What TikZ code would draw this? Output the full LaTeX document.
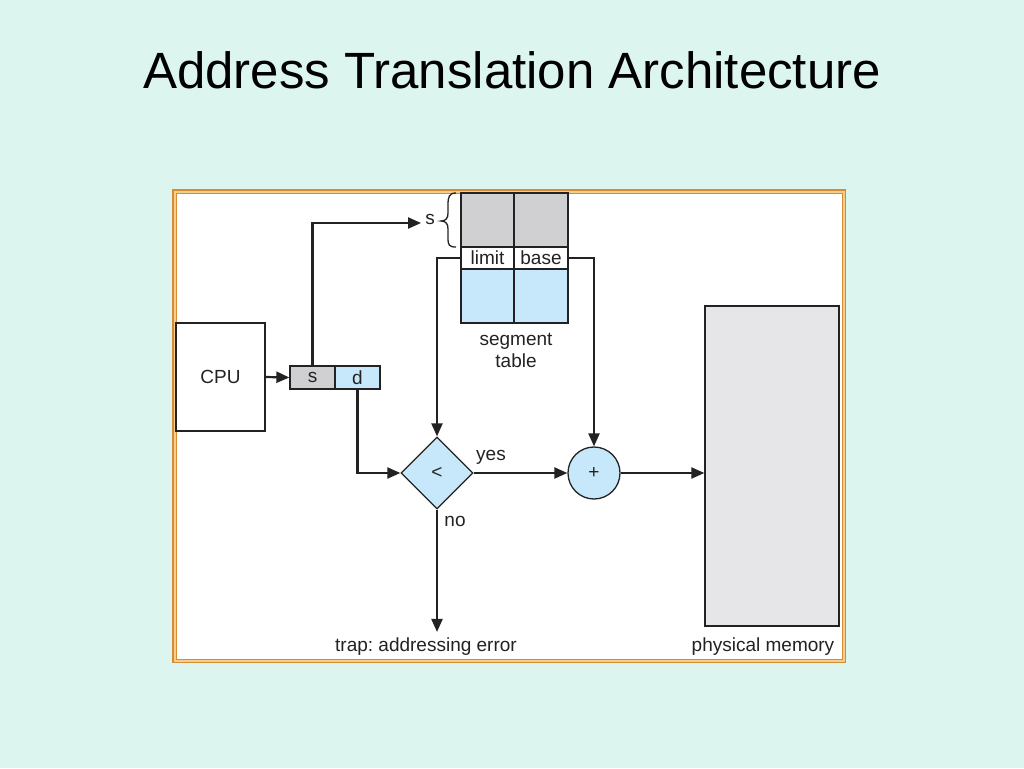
\documentclass[tikz,border=0pt]{standalone}
\usepackage{fontspec}
\setmainfont{Liberation Sans}
\frenchspacing
\usetikzlibrary{arrows.meta,shapes.geometric,calc}
\definecolor{bgmint}{RGB}{221,245,239}
\definecolor{cellgray}{RGB}{208,208,210}
\definecolor{cellblue}{RGB}{199,232,250}
\definecolor{memgray}{RGB}{230,230,232}
\definecolor{frameor}{RGB}{214,140,50}
\definecolor{framelt}{RGB}{245,205,140}
\definecolor{ink}{RGB}{34,34,34}
\begin{document}
\begin{tikzpicture}[x=1pt,y=-1pt,
  every node/.style={font=\fontsize{19}{22}\selectfont, text=ink},
  box/.style={draw=ink, line width=1.3pt, inner sep=0pt, rectangle},
  conn/.style={draw=ink, line width=2.2pt, -{Triangle[length=13pt,width=11pt]}},
  lbl/.style={inner sep=0pt}
]
\useasboundingbox (0,0) rectangle (1024,768);
\fill[bgmint] (0,0) rectangle (1024,768);
\node[font=\fontsize{51}{60}\selectfont, text=black, inner sep=0pt] (title) at (512,70) {Address Translation Architecture};
% frame
\fill[framelt] (172,189) rectangle (846,663);
\draw[frameor, line width=1.5pt] (172.75,189.75) rectangle (845.25,662.25);
\filldraw[fill=white, draw=frameor, line width=1pt] (176,193) rectangle (842,659);
% CPU
\node[box, minimum width=89pt, minimum height=108pt] (cpu) at (220.5,377) {CPU};
\node[box, fill=cellgray, minimum width=45pt, minimum height=23pt] (sreg) at (312.5,377.5) {s};
\node[box, fill=cellblue, minimum width=45pt, minimum height=23pt] (dreg) at (357.5,377.5) {d};
% segment table
\node[box, fill=cellgray, minimum width=53pt, minimum height=54pt] (gl) at (487.5,220) {};
\node[box, fill=cellgray, minimum width=54pt, minimum height=54pt] (gr) at (541,220) {};
\node[box, fill=white, minimum width=53pt, minimum height=22pt] (limit) at (487.5,258) {limit};
\node[box, fill=white, minimum width=54pt, minimum height=22pt] (base) at (541,258) {base};
\node[box, fill=cellblue, minimum width=53pt, minimum height=54pt] (bl) at (487.5,296) {};
\node[box, fill=cellblue, minimum width=54pt, minimum height=54pt] (br) at (541,296) {};
\node[lbl, align=center] (segt) at (516,350) {segment\\table};
% s label and brace
\node[lbl] (slab) at (430,219) {s};
\draw[ink, line width=1.3pt] (456,193) .. controls (449,193) and (448,197) .. (448,205) -- (448,213) .. controls (448,218) and (446,221) .. (441,221) .. controls (446,221) and (448,224) .. (448,229) -- (448,238) .. controls (448,245) and (449,247) .. (456,247);
% comparator and adder
\node[diamond, draw=ink, line width=1.3pt, fill=cellblue, minimum width=72pt, minimum height=72pt, inner sep=0pt, aspect=1] (cmp) at (437,473) {<};
\node[circle, draw=ink, line width=1.3pt, fill=cellblue, minimum size=52pt, inner sep=0pt] (plus) at (594,473) {+};
% memory
\node[box, fill=memgray, minimum width=134pt, minimum height=320pt] (mem) at (772,466) {};
% labels
\node[lbl] (yes) at (491,457) {yes};
\node[lbl] (no) at (455,521) {no};
\node[lbl] (trap) at (426,647) {trap: addressing error};
\node[lbl] (pmem) at (763,647) {physical memory};
% connectors
\draw[conn] (cpu.east) -- (sreg.west);
\draw[conn] (sreg.north) |- ($(slab.west)+(-4,4)$);
\draw[conn] (limit.west) -| (cmp.north);
\draw[conn] (base.east) -| (plus.north);
\draw[conn] (dreg.south) |- (cmp.west);
\draw[conn] (cmp.east) -- (plus.west);
\draw[conn] (plus.east) -- (plus.east -| mem.west);
\draw[conn] (cmp.south) -- ($(cmp.south |- trap.north)+(0,-6)$);
\end{tikzpicture}
\end{document}
